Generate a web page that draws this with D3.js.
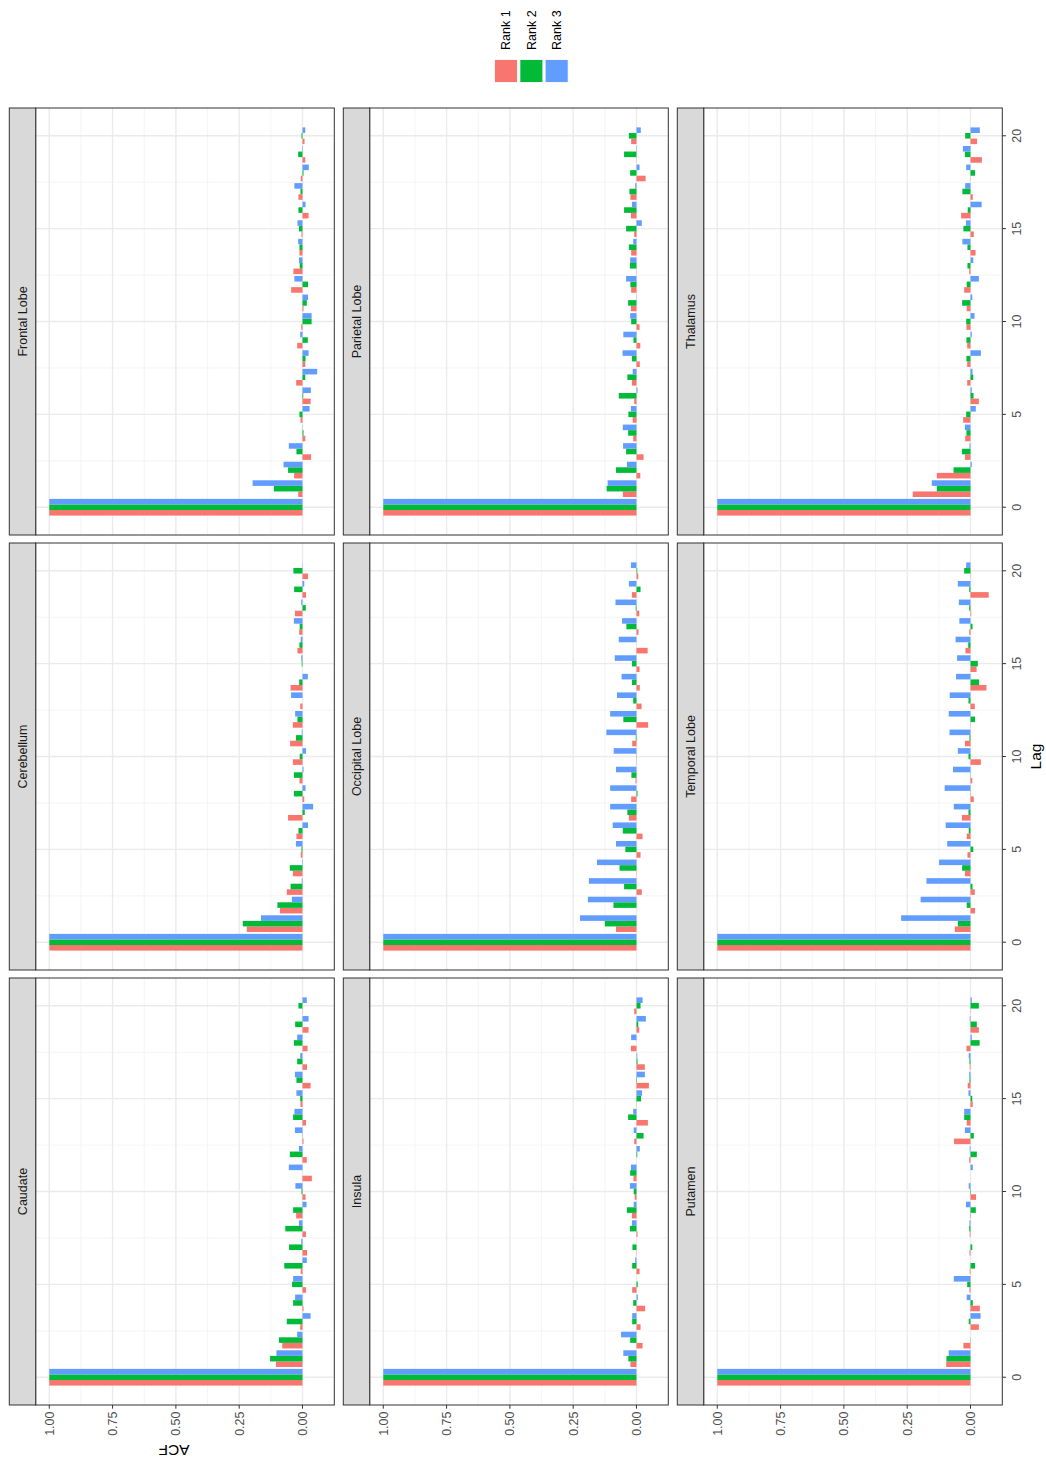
<!DOCTYPE html>
<html><head><meta charset="utf-8">
<script src="https://cdn.jsdelivr.net/npm/d3@7"></script>
<style>body{margin:0;background:#fff} svg{display:block}</style>
</head><body><svg id="chart" width="1046" height="1465"></svg>
<script>
// ---------------- data ----------------
const lags = d3.range(0, 21);
const regions = ["Caudate","Cerebellum","Frontal Lobe","Insula","Occipital Lobe","Parietal Lobe","Putamen","Temporal Lobe","Thalamus"];
const ranks = ["Rank 1","Rank 2","Rank 3"];
const rankColors = ["#F8766D","#00BA38","#619CFF"];
const acfTicks = [0, 0.25, 0.5, 0.75, 1];
const acfTickLabels = ["0.00","0.25","0.50","0.75","1.00"];
const lagTicks = [0, 5, 10, 15, 20];

const caudate_r1 = [1,0.105,0.080,0.009,-0.004,-0.014,0.007,-0.018,-0.014,0.025,-0.012,-0.037,-0.017,-0.004,-0.014,0.008,-0.032,-0.018,-0.020,-0.024,0.001];
const caudate_r2 = [1,0.128,0.093,0.062,0.037,0.041,0.072,0.053,0.068,0.037,0.004,0.000,0.050,0.001,0.037,0.009,0.024,0.021,0.034,0.029,0.016];
const caudate_r3 = [1,0.103,0.021,-0.032,0.029,0.037,-0.017,0.005,0.014,-0.016,0.028,0.054,0.014,0.030,0.032,0.024,0.030,0.009,0.021,-0.024,-0.017];

const cerebellum_r1 = [1,0.220,0.089,0.062,0.038,0.007,0.024,0.057,-0.007,0.012,0.038,0.049,0.038,0.009,0.047,0.000,0.020,0.013,0.030,-0.014,-0.022];
const cerebellum_r2 = [1,0.236,0.099,0.047,0.050,0.004,0.016,-0.009,0.034,0.034,0.011,0.026,0.020,0.000,0.013,0.003,0.012,0.011,-0.013,0.033,0.036];
const cerebellum_r3 = [1,0.164,0.042,0.003,-0.002,0.026,-0.022,-0.042,-0.012,-0.004,-0.014,0.003,0.029,0.045,-0.021,0.005,0.007,0.034,0.005,-0.007,0.001];

const frontal_r1 = [1,0.017,0.033,-0.034,-0.011,0.008,-0.032,0.025,-0.011,0.021,0.005,-0.004,0.045,0.036,0.012,0.004,-0.024,0.016,0.007,-0.011,-0.008];
const frontal_r2 = [1,0.113,0.057,0.024,-0.004,0.012,-0.003,-0.011,-0.012,-0.021,-0.036,-0.017,-0.022,0.011,0.012,0.014,0.016,0.008,-0.004,0.017,0.004];
const frontal_r3 = [1,0.197,0.075,0.054,0.001,-0.028,-0.033,-0.058,-0.024,0.009,-0.036,-0.022,0.032,0.014,0.017,0.020,-0.012,0.032,-0.025,-0.002,-0.011];

const insula_r1 = [1,0.024,-0.024,-0.016,-0.034,0.017,-0.012,0.001,-0.004,0.018,0.007,0.012,0.000,0.009,-0.045,0.001,-0.049,-0.033,0.022,-0.011,0.009];
const insula_r2 = [1,0.032,0.025,0.017,0.013,-0.005,0.017,0.016,0.026,0.038,0.011,0.025,-0.003,-0.028,0.033,-0.018,-0.002,-0.004,0.000,-0.007,-0.016];
const insula_r3 = [1,0.052,0.061,0.017,-0.005,0.000,0.005,0.000,0.018,0.011,0.026,0.022,-0.013,0.011,0.013,-0.022,-0.033,-0.003,0.021,-0.037,-0.024];

const occipital_r1 = [1,0.081,0.000,-0.021,-0.001,-0.016,-0.024,0.030,0.021,0.004,-0.001,0.017,-0.046,-0.020,-0.013,-0.012,-0.044,-0.008,-0.011,0.018,-0.007];
const occipital_r2 = [1,0.125,0.091,0.049,0.067,0.044,0.054,0.036,-0.004,0.020,0.001,0.003,0.052,0.013,0.018,0.018,0.000,0.040,0.003,-0.016,-0.003];
const occipital_r3 = [1,0.223,0.192,0.188,0.156,0.081,0.094,0.104,0.104,0.081,0.090,0.119,0.104,0.077,0.059,0.086,0.070,0.057,0.083,0.030,0.022];

const parietal_r1 = [1,0.054,-0.015,-0.028,0.013,0.015,0.009,0.018,-0.013,-0.015,-0.012,0.022,0.021,-0.001,0.021,0.009,0.022,0.024,-0.036,-0.001,0.021];
const parietal_r2 = [1,0.118,0.081,0.041,0.033,0.032,0.070,0.036,0.018,0.012,0.021,0.033,0.024,0.026,0.030,0.041,0.049,0.028,0.025,0.049,0.030];
const parietal_r3 = [1,0.114,0.038,0.053,0.054,0.022,-0.004,0.015,0.055,0.052,0.025,-0.001,0.041,0.025,0.013,-0.021,0.018,0.005,-0.012,-0.002,-0.017];

const putamen_r1 = [1,0.096,0.028,-0.033,-0.037,0.004,0.003,0.004,0.003,0.002,-0.022,0.000,0.005,0.065,0.015,-0.009,0.011,0.003,0.016,-0.033,0.001];
const putamen_r2 = [1,0.095,0.001,0.007,-0.009,0.013,-0.018,-0.007,0.005,-0.021,-0.002,0.000,-0.025,-0.013,0.025,-0.007,0.004,0.004,-0.036,-0.025,-0.033];
const putamen_r3 = [1,0.086,0.000,-0.040,0.015,0.066,0.000,0.000,0.004,0.018,0.007,-0.009,0.003,0.022,0.025,0.008,0.005,0.007,-0.005,0.003,-0.005];

const temporal_r1 = [1,0.062,-0.018,-0.017,0.022,0.012,0.015,0.034,-0.013,-0.007,-0.041,0.022,0.001,-0.017,-0.063,-0.024,0.020,0.005,-0.003,-0.072,-0.001];
const temporal_r2 = [1,0.050,0.015,-0.008,0.033,-0.011,0.007,0.008,0.001,0.001,0.008,0.004,-0.018,0.008,-0.034,-0.029,0.009,-0.008,0.005,0.005,0.025];
const temporal_r3 = [1,0.274,0.197,0.174,0.124,0.092,0.098,0.066,0.102,0.069,0.050,0.083,0.086,0.082,0.057,0.053,0.059,0.044,0.046,0.050,0.017];

const thalamus_r1 = [1,0.228,0.133,0.022,0.021,0.029,-0.033,0.013,0.013,0.013,0.016,0.015,0.025,0.005,-0.020,-0.013,0.037,-0.009,0.001,-0.045,-0.026];
const thalamus_r2 = [1,0.133,0.067,0.034,0.016,0.017,-0.012,-0.011,0.016,0.016,0.017,0.033,0.015,0.012,0.012,0.028,0.011,0.032,-0.018,0.022,0.021];
const thalamus_r3 = [1,0.153,-0.005,0.004,0.022,-0.021,-0.005,-0.008,-0.041,-0.005,-0.016,-0.007,-0.033,-0.011,0.032,0.018,-0.044,0.021,0.017,0.030,-0.037];

const seriesByRegion = [
  [caudate_r1, caudate_r2, caudate_r3],
  [cerebellum_r1, cerebellum_r2, cerebellum_r3],
  [frontal_r1, frontal_r2, frontal_r3],
  [insula_r1, insula_r2, insula_r3],
  [occipital_r1, occipital_r2, occipital_r3],
  [parietal_r1, parietal_r2, parietal_r3],
  [putamen_r1, putamen_r2, putamen_r3],
  [temporal_r1, temporal_r2, temporal_r3],
  [thalamus_r1, thalamus_r2, thalamus_r3]
];

// ---------------- layout (unrotated ggplot frame, then rotated -90deg) ----------------
const W = 1465, H = 1046;
const FONT = "'Liberation Sans', Arial, Helvetica, sans-serif";
const panelX0 = 60, panelW = 427, colStep = 435;
const stripY0 = 9.3, stripH = 26.4, panelH = 298.6, rowStep = 334;
const tickLen = 3.7;

const svg = d3.select("#chart");
svg.append("rect").attr("width",1046).attr("height",1465).attr("fill","#fff");
const g = svg.append("g").attr("transform", `translate(0,${W}) rotate(-90)`);

// scales
const barW = 0.9, dodge = barW / 3;
const lagMin = d3.min(lags) - barW/2, lagMax = d3.max(lags) + barW/2;
const lagPad = (lagMax - lagMin) * 0.05;
const x = d3.scaleLinear().domain([lagMin - lagPad, lagMax + lagPad]).range([0, panelW]);

const allVals = seriesByRegion.flat(2).concat([0]);
const vMin = d3.min(allVals), vMax = d3.max(allVals);
const vPad = (vMax - vMin) * 0.05;
const y = d3.scaleLinear().domain([vMin - vPad, vMax + vPad]).range([panelH, 0]);

const lagMinor = [2.5, 7.5, 12.5, 17.5];
const acfMinor = [0.125, 0.375, 0.625, 0.875];

regions.forEach((name, i) => {
  const col = i % 3, row = Math.floor(i / 3);
  const px = panelX0 + col * colStep;
  const sy = stripY0 + row * rowStep;
  const py = sy + stripH;
  const p = g.append("g").attr("transform", `translate(${px},${py})`);

  p.append("rect").attr("width", panelW).attr("height", panelH).attr("fill", "#fff");
  // minor grid
  p.selectAll(".vminor").data(lagMinor).join("line")
    .attr("x1", d => x(d)).attr("x2", d => x(d)).attr("y1", 0).attr("y2", panelH)
    .attr("stroke", "#F1F1F1").attr("stroke-width", 0.8);
  p.selectAll(".hminor").data(acfMinor).join("line")
    .attr("y1", d => y(d)).attr("y2", d => y(d)).attr("x1", 0).attr("x2", panelW)
    .attr("stroke", "#F1F1F1").attr("stroke-width", 0.8);
  // major grid
  p.selectAll(".vmajor").data(lagTicks).join("line")
    .attr("x1", d => x(d)).attr("x2", d => x(d)).attr("y1", 0).attr("y2", panelH)
    .attr("stroke", "#EBEBEB").attr("stroke-width", 1.4);
  p.selectAll(".hmajor").data(acfTicks).join("line")
    .attr("y1", d => y(d)).attr("y2", d => y(d)).attr("x1", 0).attr("x2", panelW)
    .attr("stroke", "#EBEBEB").attr("stroke-width", 1.4);

  // bars
  seriesByRegion[i].forEach((vals, k) => {
    p.append("g").selectAll("rect").data(vals).join("rect")
      .attr("x", (d, l) => x(lags[l] + (k - 1) * dodge - dodge / 2))
      .attr("width", x(dodge) - x(0))
      .attr("y", d => y(Math.max(d, 0)))
      .attr("height", d => Math.abs(y(d) - y(0)))
      .attr("fill", rankColors[k]);
  });

  // panel border
  p.append("rect").attr("width", panelW).attr("height", panelH)
    .attr("fill", "none").attr("stroke", "#333333").attr("stroke-width", 1);

  // strip
  g.append("rect").attr("x", px).attr("y", sy).attr("width", panelW).attr("height", stripH)
    .attr("fill", "#D9D9D9").attr("stroke", "#333333").attr("stroke-width", 1);
  g.append("text").attr("x", px + panelW / 2).attr("y", sy + stripH / 2)
    .attr("dy", "0.35em").attr("text-anchor", "middle")
    .attr("font-family", FONT).attr("font-size", 12.5).attr("fill", "#1A1A1A")
    .text(name);

  // y axis (left column only)
  if (col === 0) {
    const ya = g.append("g").attr("transform", `translate(${px},${py})`);
    ya.selectAll("line").data(acfTicks).join("line")
      .attr("x1", -tickLen).attr("x2", 0).attr("y1", d => y(d)).attr("y2", d => y(d))
      .attr("stroke", "#333333").attr("stroke-width", 1);
    ya.selectAll("text").data(acfTicks).join("text")
      .attr("x", -tickLen - 2.8).attr("y", d => y(d)).attr("dy", "0.35em")
      .attr("text-anchor", "end").attr("font-family", FONT).attr("font-size", 12.5)
      .attr("fill", "#4D4D4D").text((d, j) => acfTickLabels[j]);
  }
  // x axis (bottom row only)
  if (row === 2) {
    const xa = g.append("g").attr("transform", `translate(${px},${py + panelH})`);
    xa.selectAll("line").data(lagTicks).join("line")
      .attr("x1", d => x(d)).attr("x2", d => x(d)).attr("y1", 0).attr("y2", tickLen)
      .attr("stroke", "#333333").attr("stroke-width", 1);
    xa.selectAll("text").data(lagTicks).join("text")
      .attr("x", d => x(d)).attr("y", tickLen + 11).attr("dy", "0.35em")
      .attr("text-anchor", "middle").attr("font-family", FONT).attr("font-size", 12.5)
      .attr("fill", "#4D4D4D").text(d => d);
  }
});

// axis titles
g.append("text").attr("x", (panelX0 + panelX0 + 2 * colStep + panelW) / 2).attr("y", 1036)
  .attr("dy", "0.35em").attr("text-anchor", "middle")
  .attr("font-family", FONT).attr("font-size", 15.5).attr("fill", "#000").text("Lag");
g.append("text").attr("transform", `translate(15,174) rotate(-90)`)
  .attr("dy", "0.35em").attr("text-anchor", "middle")
  .attr("font-family", FONT).attr("font-size", 15.5).attr("fill", "#000").text("ACF");

// legend
const keyX = 1382.3, keyS = 23.4, keyY0 = 494.3, keyStep = 25.35;
const lg = g.append("g");
ranks.forEach((r, k) => {
  lg.append("rect").attr("x", keyX).attr("y", keyY0 + k * keyStep)
    .attr("width", keyS).attr("height", keyS).attr("fill", "#F2F2F2");
  lg.append("rect").attr("x", keyX + 0.7).attr("y", keyY0 + k * keyStep + 0.7)
    .attr("width", keyS - 1.4).attr("height", keyS - 1.4).attr("fill", rankColors[k]);
  lg.append("text").attr("x", 1415).attr("y", keyY0 + k * keyStep + keyS / 2)
    .attr("dy", "0.35em").attr("font-family", FONT).attr("font-size", 12.5)
    .attr("fill", "#000").text(r);
});
</script>
</body></html>
